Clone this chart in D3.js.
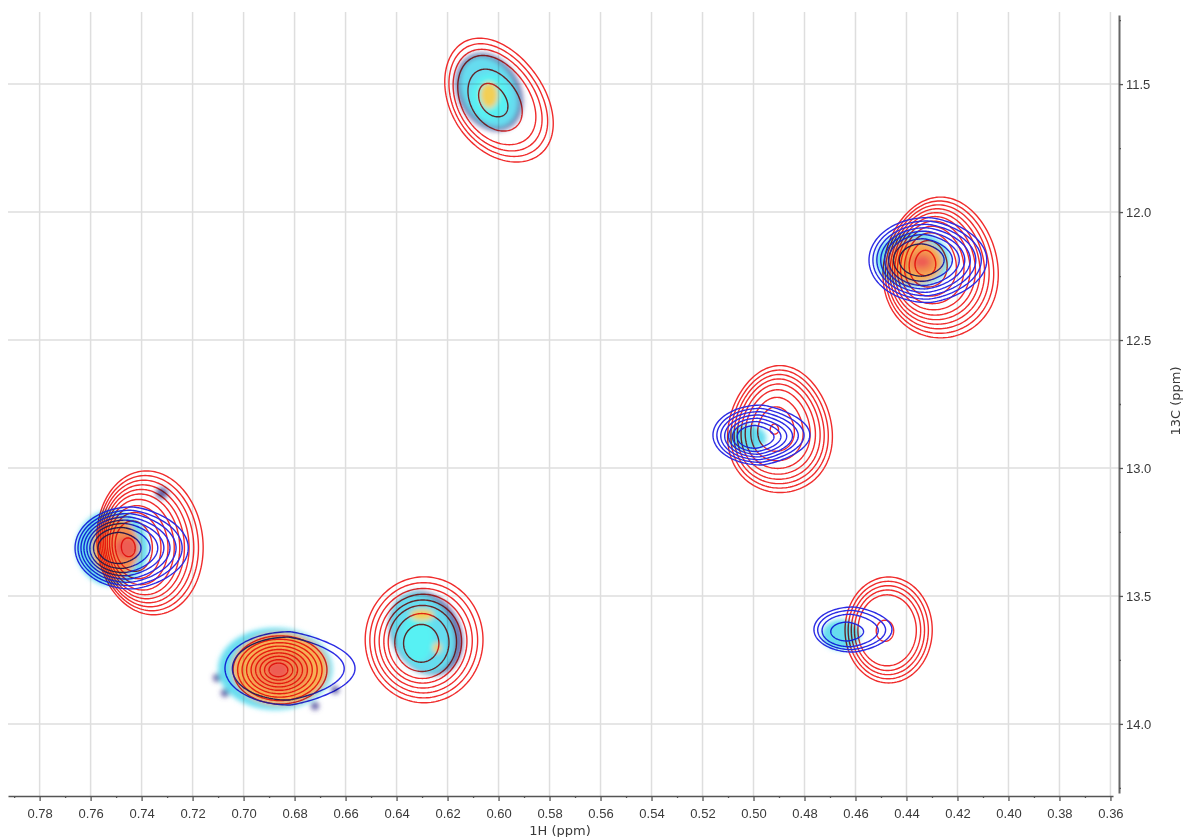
<!DOCTYPE html>
<html>
<head>
<meta charset="utf-8">
<script src="https://cdn.jsdelivr.net/npm/d3@7"></script>
<style>
  html, body { margin: 0; padding: 0; background: #fff; overflow: hidden; }
  svg { display: block; font-family: "DejaVu Sans", Verdana, sans-serif; }
</style>
</head>
<body>
<svg id="chart"></svg>
<script>
// overlay of three 1H-13C HSQC spectra (methyl region)

const width = 1184;
const height = 837;

// axis ticks (ppm)
const xTicks = [0.78, 0.76, 0.74, 0.72, 0.70, 0.68, 0.66, 0.64, 0.62, 0.60, 0.58,
                0.56, 0.54, 0.52, 0.50, 0.48, 0.46, 0.44, 0.42, 0.40, 0.38, 0.36];
const xMinorTicks = [0.79, 0.77, 0.75, 0.73, 0.71, 0.69, 0.67, 0.65, 0.63, 0.61, 0.59,
                     0.57, 0.55, 0.53, 0.51, 0.49, 0.47, 0.45, 0.43, 0.41, 0.39, 0.37];
const yTicks = [11.5, 12.0, 12.5, 13.0, 13.5, 14.0];
const yMinorTicks = [11.25, 11.75, 12.25, 12.75, 13.25, 13.75, 14.25];

// red spectrum: apex (h = 1H, c = 13C), outer contour offset/half widths (ppm), contour levels
const redPeaks = [
  { h: 0.7465, c: 13.3125, ox: 0.0098, oy: -0.020, rx: 0.0208, ry: 0.281, sk: 0.0014, levels: [1, 0.94, 0.88, 0.82, 0.76, 0.70, 0.63, 0.55, 0.46, 0.35, 0.13] },
  { h: 0.6865, c: 13.789,  ox: 0.0008, oy: 0,      rx: 0.0184, ry: 0.133, levels: [1, 0.9, 0.8, 0.7, 0.6, 0.5, 0.4, 0.3, 0.2] },
  { h: 0.6029, c: 11.5625, ox: 0.0027, oy: 0,      rx: 0.0200, ry: 0.242, sk: 0.0072, egg: 0.06, levels: [1, 0.91, 0.82, 0.72, 0.5, 0.27] },
  { h: 0.4339, c: 12.195,  ox: 0.0073, oy: 0.0215, rx: 0.0225, ry: 0.275, egg: 0.1, levels: [1, 0.94, 0.88, 0.82, 0.76, 0.70, 0.63, 0.55, 0.45, 0.33, 0.18] },
  { h: 0.4920, c: 12.848,  ox: 0.0024, oy: 0,      rx: 0.0204, ry: 0.248, egg: 0.12, levels: [1, 0.93, 0.86, 0.79, 0.71, 0.62, 0.5, 0.35, 0.08] },
  { h: 0.4488, c: 13.637,  ox: 0.0018, oy: -0.004, rx: 0.0171, ry: 0.207, levels: [1, 0.92, 0.84, 0.76, 0.67, 0.2] },
  { h: 0.6308, c: 13.691,  ox: 0.0016, oy: -0.0195, rx: 0.0231, ry: 0.246, levels: [1, 0.915, 0.83, 0.745, 0.66, 0.58, 0.46, 0.3] }
];

// blue spectrum
const bluePeaks = [
  { h: 0.7516, c: 13.3125, ox: 0.0077, oy: 0,       rx: 0.0222, ry: 0.160, tip: 1.3, levels: [1, 0.92, 0.84, 0.76, 0.68, 0.6, 0.5, 0.38] },
  { h: 0.6865, c: 13.789,  ox: 0.0047, oy: -0.006,  rx: 0.0255, ry: 0.143, tip: 1.6, levels: [1, 0.86] },
  { h: 0.4355, c: 12.1875, ox: 0.0039, oy: 0,       rx: 0.0231, ry: 0.166, tip: 1.3, levels: [1, 0.92, 0.84, 0.76, 0.68, 0.6, 0.5, 0.38] },
  { h: 0.5006, c: 12.883,  ox: 0.0037, oy: -0.0117, rx: 0.0190, ry: 0.117, tip: 1.5, levels: [1, 0.9, 0.8, 0.7, 0.6, 0.5, 0.38] },
  { h: 0.4649, c: 13.645,  ox: 0.0039, oy: -0.0137, rx: 0.0153, ry: 0.088, tip: 1.4, levels: [1, 0.87, 0.72, 0.42] }
];

// third spectrum as intensity map: spot centre, half widths (ppm), intensity class
const heatSpots = [
  // 0.745 / 13.31
  { h: 0.7320, c: 13.098, rx: 0.0024, ry: 0.023, level: 0 },
  { h: 0.7531, c: 13.199, rx: 0.0020, ry: 0.020, level: 0 },
  { h: 0.7516, c: 13.3125, rx: 0.0141, ry: 0.148, level: 1 },
  { h: 0.7504, c: 13.3125, rx: 0.0090, ry: 0.121, level: 4 },
  { h: 0.7476, c: 13.3125, rx: 0.0067, ry: 0.086, level: 5 },
  { h: 0.7461, c: 13.3125, rx: 0.0043, ry: 0.043, level: 6 },
  // 0.686 / 13.79
  { h: 0.7104, c: 13.820, rx: 0.0016, ry: 0.016, level: 0 },
  { h: 0.7053, c: 13.723, rx: 0.0016, ry: 0.016, level: 0 },
  { h: 0.6986, c: 13.672, rx: 0.0016, ry: 0.016, level: 0 },
  { h: 0.7073, c: 13.879, rx: 0.0016, ry: 0.016, level: 0 },
  { h: 0.6967, c: 13.906, rx: 0.0016, ry: 0.016, level: 0 },
  { h: 0.6720, c: 13.930, rx: 0.0016, ry: 0.016, level: 0 },
  { h: 0.6641, c: 13.867, rx: 0.0016, ry: 0.016, level: 0 },
  { h: 0.6876, c: 13.785, rx: 0.0224, ry: 0.160, level: 1 },
  { h: 0.6857, c: 13.785, rx: 0.0188, ry: 0.141, level: 4 },
  { h: 0.6857, c: 13.793, rx: 0.0118, ry: 0.082, level: 5 },
  { h: 0.6865, c: 13.789, rx: 0.0043, ry: 0.035, level: 6 },
  // 0.603 / 11.55
  { h: 0.6037, c: 11.531, rx: 0.0128, ry: 0.152, sk: 0.0031, level: 0 },
  { h: 0.6037, c: 11.531, rx: 0.0110, ry: 0.137, sk: 0.0031, level: 1 },
  { h: 0.6033, c: 11.550, rx: 0.0075, ry: 0.090, level: 2 },
  { h: 0.6037, c: 11.543, rx: 0.0035, ry: 0.051, level: 3 },
  // 0.433 / 12.20
  { h: 0.4375, c: 12.1875, rx: 0.0145, ry: 0.109, level: 1 },
  { h: 0.4367, c: 12.195, rx: 0.0110, ry: 0.086, level: 4 },
  { h: 0.4339, c: 12.195, rx: 0.0059, ry: 0.047, level: 5 },
  { h: 0.4339, c: 12.195, rx: 0.0031, ry: 0.023, level: 6 },
  // 0.502 / 12.88
  { h: 0.5025, c: 12.883, rx: 0.0075, ry: 0.051, level: 1 },
  // 0.466 / 13.65
  { h: 0.4657, c: 13.652, rx: 0.0075, ry: 0.059, level: 1 },
  // 0.630 / 13.65
  { h: 0.6285, c: 13.645, rx: 0.0141, ry: 0.164, sk: 0.003, level: 0 },
  { h: 0.6296, c: 13.645, rx: 0.0122, ry: 0.156, sk: 0.003, level: 1 },
  { h: 0.6316, c: 13.660, rx: 0.0059, ry: 0.098, level: 2 },
  { h: 0.6300, c: 13.574, rx: 0.0047, ry: 0.023, level: 3 },
  { h: 0.6241, c: 13.703, rx: 0.0016, ry: 0.020, level: 3 }
];

// scales
const x = d3.scaleLinear().domain([0.7924, 0.3590]).range([8, 1113]);
const y = d3.scaleLinear().domain([11.23, 14.27]).range([15, 793]);
const heatColor = d3.scaleOrdinal()
    .domain([0, 1, 2, 3, 4, 5, 6])
    .range(["#55529f", "#55d9ee", "#45f0f2", "#f2ca42", "#f6a842", "#f2803c", "#ec4c40"]);

const svg = d3.select("#chart")
    .attr("width", width)
    .attr("height", height)
    .attr("viewBox", [0, 0, width, height]);

svg.append("defs").append("filter")
    .attr("id", "soft")
    .attr("x", "-20%").attr("y", "-20%").attr("width", "140%").attr("height", "140%")
  .append("feGaussianBlur")
    .attr("stdDeviation", 2.6);

// grid
svg.append("g")
  .selectAll("line")
  .data(xTicks)
  .join("line")
    .attr("x1", d => x(d)).attr("x2", d => x(d))
    .attr("y1", 12).attr("y2", 796)
    .attr("stroke", "#dedede")
    .attr("stroke-width", 1.5);

svg.append("g")
  .selectAll("line")
  .data(yTicks)
  .join("line")
    .attr("x1", 8).attr("x2", 1119)
    .attr("y1", d => y(d)).attr("y2", d => y(d))
    .attr("stroke", "#dedede")
    .attr("stroke-width", 1.5);

// one contour ring, scaled by f towards the apex
function ring(p, f) {
  const n = 160, pts = [];
  for (let i = 0; i < n; i++) {
    const t = i / n * 2 * Math.PI;
    const u = Math.cos(t), v = Math.sin(t);
    const gu = u > 0 ? Math.pow(u, p.tip || 1) : u;
    const dx = (p.ox || 0) + p.rx * gu * (1 + (p.egg || 0) * v) + (p.sk || 0) * v;
    const dy = (p.oy || 0) + p.ry * v;
    pts.push([x(p.h - f * dx), y(p.c + f * dy)]);
  }
  return pts;
}

const line = d3.line().curve(d3.curveLinearClosed);

function drawContours(peaks, color) {
  svg.append("g")
    .selectAll("g")
    .data(peaks)
    .join("g")
    .selectAll("path")
    .data(p => p.levels.map(f => ({ p, f })))
    .join("path")
      .attr("d", d => line(ring(d.p, d.f)))
      .attr("fill", "none")
      .attr("stroke", color)
      .attr("stroke-width", 1.4);
}

drawContours(redPeaks, "#f02c2c");
drawContours(bluePeaks, "#2b2be4");

// intensity map on top, multiplied so that the contours show through
svg.append("g")
    .attr("filter", "url(#soft)")
    .attr("opacity", 0.9)
    .style("mix-blend-mode", "multiply")
  .selectAll("path")
  .data(heatSpots)
  .join("path")
    .attr("d", d => line(ring({ h: d.h, c: d.c, rx: d.rx, ry: d.ry, sk: d.sk }, 1)))
    .attr("fill", d => heatColor(d.level));

// x axis
const gx = svg.append("g").attr("transform", "translate(0,796)");
gx.call(d3.axisBottom(x).tickValues(xTicks).tickFormat(d3.format(".2f")).tickSize(5).tickSizeOuter(0).tickPadding(8));
gx.append("g").call(d3.axisBottom(x).tickValues(xMinorTicks).tickFormat("").tickSize(2).tickSizeOuter(0))
    .call(g => g.select(".domain").remove());
gx.selectAll(".domain").attr("stroke", "#555").attr("stroke-width", 1.6);
gx.selectAll(".tick line").attr("stroke", "#555").attr("stroke-width", 1.3);
gx.selectAll("text").attr("fill", "#3a3a3a").style("font-size", "13px");

svg.append("text")
    .attr("x", 560).attr("y", 835)
    .attr("text-anchor", "middle")
    .attr("fill", "#3a3a3a")
    .style("font-size", "13px")
    .text("1H (ppm)");

// y axis
const gy = svg.append("g").attr("transform", "translate(1119,0)");
gy.call(d3.axisRight(y).tickValues(yTicks).tickFormat(d3.format(".1f")).tickSize(4).tickSizeOuter(0).tickPadding(3));
gy.append("g").call(d3.axisRight(y).tickValues(yMinorTicks).tickFormat("").tickSize(2).tickSizeOuter(0))
    .call(g => g.select(".domain").remove());
gy.selectAll(".domain").attr("stroke", "#666").attr("stroke-width", 2);
gy.selectAll(".tick line").attr("stroke", "#555").attr("stroke-width", 1.3);
gy.selectAll("text").attr("fill", "#3a3a3a").style("font-size", "13px");

svg.append("text")
    .attr("transform", "translate(1180,401) rotate(-90)")
    .attr("text-anchor", "middle")
    .attr("fill", "#3a3a3a")
    .style("font-size", "13px")
    .text("13C (ppm)");
</script>
</body>
</html>
